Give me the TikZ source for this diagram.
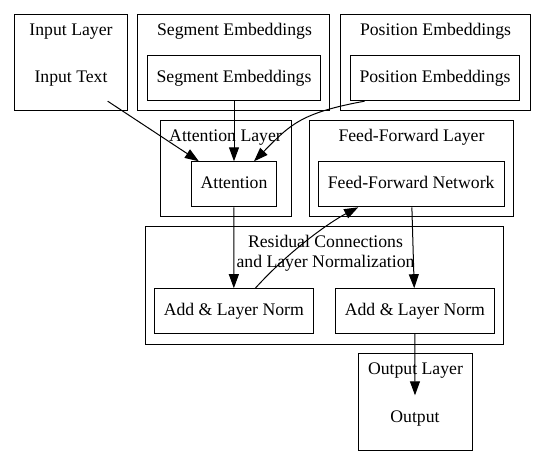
\documentclass[tikz,border=0pt]{standalone}
\usepackage{fontspec}
\setmainfont{Liberation Serif}
\usetikzlibrary{arrows.meta}

\tikzset{
    layerbox/.style={draw, line width=1pt, inner sep=0pt},
    layername/.style={inner sep=0pt, anchor=base},
    block/.style={draw, line width=1pt, minimum height=45pt, inner xsep=9.5pt,
        text height=12.3pt, text depth=3.5pt},
    plain/.style={minimum height=45pt, inner xsep=0pt,
        text height=12.3pt, text depth=3.5pt},
    flow/.style={line width=1pt, -{Triangle[length=14pt, width=10pt]}}
}

\begin{document}
\begin{tikzpicture}[x=1pt, y=-1pt, font=\fontsize{17.7}{20.4}\selectfont]
    \useasboundingbox (0,0) rectangle (545,465);

    % layer frames
    \node[layerbox, minimum width=113pt, minimum height=96pt] (inlayer) at (71.2,62.7) {};
    \node[layerbox, minimum width=191.6pt, minimum height=96pt] (seglayer) at (233.5,62.7) {};
    \node[layerbox, minimum width=190pt, minimum height=96pt] (poslayer) at (435,62.7) {};
    \node[layerbox, minimum width=131pt, minimum height=96pt] (attlayer) at (225.5,168.7) {};
    \node[layerbox, minimum width=204.3pt, minimum height=96pt] (fflayer) at (411.2,168.7) {};
    \node[layerbox, minimum width=358.3pt, minimum height=117.3pt] (reslayer) at (324.2,285.4) {};
    \node[layerbox, minimum width=114.4pt, minimum height=96.7pt] (outlayer) at (415.5,401.7) {};

    % layer names
    \node[layername] (inname) at (71,35.3) {Input Layer};
    \node[layername] (segname) at (234.5,35.3) {Segment Embeddings};
    \node[layername] (posname) at (435.5,35.3) {Position Embeddings};
    \node[layername] (attname) at (225.5,141.7) {Attention Layer};
    \node[layername] (ffname) at (411.5,141.7) {Feed-Forward Layer};
    \node[inner sep=0pt, align=center] (resname) at (325.5,253.4) {Residual Connections\\and Layer Normalization};
    \node[layername] (outname) at (415.5,374) {Output Layer};

    % blocks
    \node[plain] (intext) at (71,78.5) {Input Text};
    \node[block] (seg) at (234,78.2) {Segment Embeddings};
    \node[block] (pos) at (435,78.2) {Position Embeddings};
    \node[block] (att) at (234,184.3) {Attention};
    \node[block] (ff) at (411.2,184.3) {Feed-Forward Network};
    \node[block] (add1) at (233.8,311.2) {Add \& Layer Norm};
    \node[block] (add2) at (414.9,311.2) {Add \& Layer Norm};
    \node[plain] (out) at (415,418) {Output};

    % connections
    \draw[flow] (intext.south east) -- ([xshift=8.3]att.north west);
    \draw[flow] (seg) -- (att);
    \draw[flow] ([xshift=15]pos.south west) .. controls (300,113) and (290,125) .. ([xshift=20]att.north);
    \draw[flow] (att) -- (add1);
    \draw[flow] ([xshift=21.5]add1.north) .. controls (290,250) and (330,222) .. ([xshift=-53]ff.south);
    \draw[flow] (ff) -- (add2);
    \draw[flow] (add2) -- (out);
\end{tikzpicture}
\end{document}
